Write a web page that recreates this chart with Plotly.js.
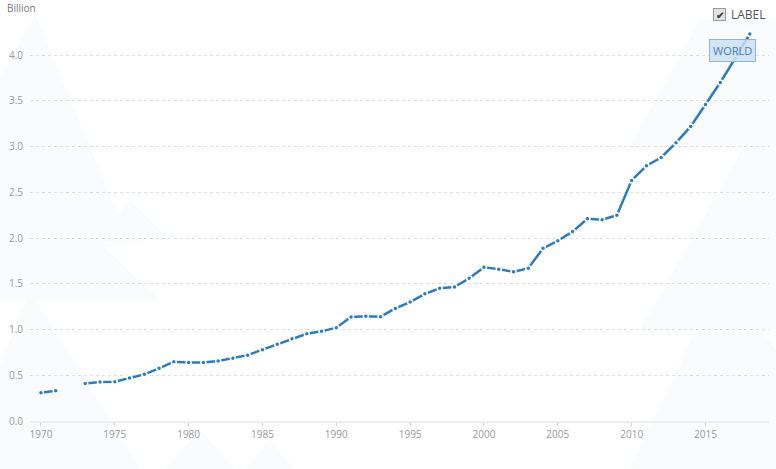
<!DOCTYPE html>
<html>
<head>
<meta charset="utf-8">
<script src="https://cdn.plot.ly/plotly-3.0.1.min.js"></script>
<style>html,body{margin:0;padding:0;background:#fff;}#chart{width:776px;height:469px;}</style>
</head>
<body>
<div id="chart"></div>
<script>
var years = [1970,1971,1972,1973,1974,1975,1976,1977,1978,1979,1980,1981,1982,1983,1984,1985,1986,1987,1988,1989,1990,1991,1992,1993,1994,1995,1996,1997,1998,1999,2000,2001,2002,2003,2004,2005,2006,2007,2008,2009,2010,2011,2012,2013,2014,2015,2016,2017,2018];
var values = [0.31,0.33,null,0.41,0.426,0.43,0.47,0.51,0.576,0.648,0.64,0.64,0.656,0.685,0.72,0.78,0.84,0.90,0.954,0.98,1.02,1.137,1.144,1.14,1.23,1.30,1.39,1.45,1.465,1.56,1.68,1.66,1.63,1.67,1.887,1.97,2.07,2.21,2.20,2.25,2.63,2.79,2.88,3.04,3.22,3.46,3.70,3.96,4.23];
var seriesName = "WORLD";
var unitLabel = "Billion";
var legendLabel = "LABEL";
var yTicks = [0,0.5,1,1.5,2,2.5,3,3.5,4];
var yTickText = ["0.0","0.5","1.0","1.5","2.0","2.5","3.0","3.5","4.0"];
var xTicks = [1970,1975,1980,1985,1990,1995,2000,2005,2010,2015];

// plot area geometry helpers for decorative watermark (paper coords)
var L=30, R=769, T=20, B=421;
function px(x){return (x-L)/(R-L);}
function py(y){return (B-y)/(B-T);}
function poly(pts){
  return 'M'+pts.map(function(p){return px(p[0]).toFixed(4)+','+py(p[1]).toFixed(4);}).join(' L')+' Z';
}
var wm = '#f9fbfd';
var bgPolys = [
  [[35,15],[-120,290],[170,235],[120,220]],
  [[0,150],[-60,300],[160,300]],
  [[30,290],[-40,469],[140,469]],
  [[200,430],[165,469],[235,469]],
  [[270,440],[245,469],[295,469]],
  [[700,20],[630,145],[776,145],[776,20]],
  [[776,90],[640,330],[776,330]],
  [[720,280],[630,469],[776,469],[776,350]],
  [[130,200],[100,240],[170,240]]
];
var bgShapes = bgPolys.map(function(p){
  return {type:'path', xref:'paper', yref:'paper', path:poly(p), fillcolor:wm, line:{width:0}, layer:'below'};
});

var trace = {
  x: years, y: values, type:'scatter', mode:'lines+markers', name: seriesName,
  connectgaps:false,
  line:{color:'#2c7bbf', width:2.5},
  marker:{color:'#2c7bbf', size:5, line:{color:'#ffffff', width:1.5}},
  hoverinfo:'x+y'
};

var layout = {
  width:776, height:469,
  margin:{l:L, r:776-R, t:T, b:469-B},
  paper_bgcolor:'#ffffff', plot_bgcolor:'rgba(0,0,0,0)',
  showlegend:false,
  font:{family:'"Open Sans", sans-serif', color:'#999999', size:10},
  xaxis:{
    range:[1969.26, 2019.3], tickvals:xTicks, ticktext:xTicks.map(String),
    showgrid:false, zeroline:false, showline:true, linecolor:'#eceef0', linewidth:2,
    ticks:'outside', ticklen:3, tickcolor:'#d0d0d0', tickwidth:1,
    tickfont:{size:10, color:'#999999'}, fixedrange:true
  },
  yaxis:{
    range:[0, 4.383], tickvals:yTicks, ticktext:yTickText,
    showgrid:true, gridcolor:'#dedede', griddash:'3px,3px', gridwidth:1,
    zeroline:false, showline:false, ticks:'', ticklabelstandoff:6,
    tickfont:{size:10, color:'#999999'}, fixedrange:true
  },
  shapes: bgShapes,
  annotations:[
    {xref:'paper', yref:'paper', x:px(5), y:py(8), xanchor:'left', yanchor:'middle',
     text:unitLabel, showarrow:false, font:{size:10, color:'#777777'}},
    {xref:'paper', yref:'paper', x:px(729), y:py(14), xanchor:'left', yanchor:'middle',
     text:legendLabel, showarrow:false, font:{size:12, color:'#555555'}},
    {xref:'paper', yref:'paper', x:px(719), y:py(14), xanchor:'center', yanchor:'middle',
     text:'<b>✔</b>', showarrow:false, font:{size:10, color:'#444444'},
     bgcolor:'#e2e2e2', bordercolor:'#999999', borderwidth:1, borderpad:0, width:11, height:11},
    {xref:'x', yref:'y', x:2016.85, y:4.05, xanchor:'center', yanchor:'middle',
     text:seriesName, showarrow:false, font:{size:11, color:'#4a7db0'},
     bgcolor:'rgba(205,225,242,0.85)', bordercolor:'#8fb6d8', borderwidth:1, borderpad:3}
  ]
};

Plotly.newPlot('chart', [trace], layout, {displayModeBar:false, staticPlot:true});
</script>
</body>
</html>
